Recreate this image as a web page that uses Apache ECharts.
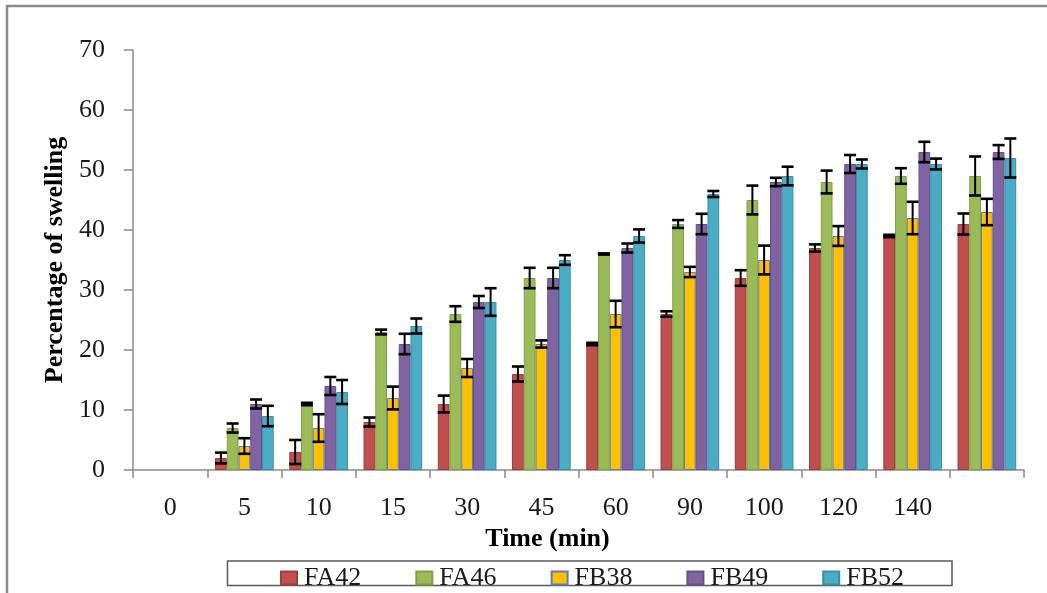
<!DOCTYPE html>
<html>
<head>
<meta charset="utf-8">
<script src="https://cdn.jsdelivr.net/npm/echarts@6/dist/echarts.min.js"></script>
<style>
  html, body { margin: 0; padding: 0; background: #fff; }
  #chart { width: 1047px; height: 593px; }
</style>
</head>
<body>
<div id="chart"></div>
<script>
// ---- data ----
const categories = ['0', '5', '10', '15', '30', '45', '60', '90', '100', '120', '140', ''];
const yTicks = [0, 10, 20, 30, 40, 50, 60, 70];

const seriesNames = ['FA42', 'FA46', 'FB38', 'FB49', 'FB52'];

const FA42 = [null, 2, 3, 8, 11, 16, 21, 26, 32, 37, 39, 41];
const FA46 = [null, 7, 11, 23, 26, 32, 36, 41, 45, 48, 49, 49];
const FB38 = [null, 4, 7, 12, 17, 21, 26, 33, 35, 39, 42, 43];
const FB49 = [null, 11, 14, 21, 28, 32, 37, 41, 48, 51, 53, 53];
const FB52 = [null, 9, 13, 24, 28, 35, 39, 46, 49, 51, 51, 52];

const FA42_sd = [null, 0.9, 2.0, 0.75, 1.4, 1.25, 0.2, 0.45, 1.3, 0.6, 0.2, 1.75];
const FA46_sd = [null, 0.75, 0.2, 0.4, 1.3, 1.7, 0.1, 0.65, 2.4, 1.9, 1.3, 3.25];
const FB38_sd = [null, 1.3, 2.3, 1.9, 1.5, 0.6, 2.2, 0.85, 2.4, 1.65, 2.7, 2.2];
const FB49_sd = [null, 0.75, 1.5, 1.7, 1.0, 1.7, 0.75, 1.7, 0.7, 1.5, 1.7, 1.15];
const FB52_sd = [null, 1.7, 2.0, 1.25, 2.3, 0.8, 1.1, 0.5, 1.55, 0.75, 0.9, 3.25];

// ---- styling ----
const values = [FA42, FA46, FB38, FB49, FB52];
const errors = [FA42_sd, FA46_sd, FB38_sd, FB49_sd, FB52_sd];
const colors = ['#C0504D', '#9BBB59', '#FFC000', '#8064A2', '#4BACC6'];
const borders = ['#9a3f3c', '#819d48', '#5a7fb3', '#67508a', '#3a8ea6'];
const FONT = '"Liberation Serif", "Times New Roman", serif';
const CAT_GAP = 0.21;
const N = seriesNames.length;

const barSeries = seriesNames.map((name, i) => ({
  name: name,
  type: 'bar',
  data: values[i],
  barGap: '0%',
  barCategoryGap: (CAT_GAP * 100) + '%',
  itemStyle: { color: colors[i], borderColor: borders[i], borderWidth: 1 },
  z: 2
}));

const errSeries = seriesNames.map((name, i) => ({
  name: name + ' SD',
  type: 'custom',
  z: 5,
  silent: true,
  data: values[i].map((v, k) => v == null ? null : [k, v, errors[i][k]]).filter(d => d),
  renderItem: function (params, api) {
    const k = api.value(0), v = api.value(1), e = api.value(2);
    const band = api.size([1, 0])[0];
    const bw = band * (1 - CAT_GAP) / N;
    const off = (i - (N - 1) / 2) * bw;
    const top = api.coord([k, v + e]);
    const bot = api.coord([k, v - e]);
    const x = top[0] + off;
    const half = 6;
    return {
      type: 'group',
      children: [
        { type: 'line', shape: { x1: x, y1: top[1], x2: x, y2: bot[1] }, style: { stroke: '#000', lineWidth: 2 } },
        { type: 'line', shape: { x1: x - half, y1: top[1], x2: x + half, y2: top[1] }, style: { stroke: '#000', lineWidth: 2.6 } },
        { type: 'line', shape: { x1: x - half, y1: bot[1], x2: x + half, y2: bot[1] }, style: { stroke: '#000', lineWidth: 2.6 } }
      ]
    };
  }
}));

const chart = echarts.init(document.getElementById('chart'), null, { renderer: 'canvas' });
chart.setOption({
  animation: false,
  backgroundColor: '#fff',
  grid: { left: 133, right: 23, top: 50, bottom: 123, containLabel: false },
  legend: {
    data: seriesNames,
    left: 275,
    top: 560,
    itemWidth: 16,
    itemHeight: 13,
    itemGap: 54,
    icon: 'rect',
    textStyle: { fontFamily: FONT, fontSize: 26, color: '#1a1a1a', padding: [0, 0, 0, 2] }
  },
  graphic: [
    { type: 'rect', z: -10, shape: { x: 7, y: 6, width: 1200, height: 800 },
      style: { fill: 'none', stroke: '#8a8a8a', lineWidth: 2.5 } },
    { type: 'rect', z: -5, shape: { x: 227.5, y: 561, width: 724.5, height: 24.5 },
      style: { fill: '#fff', stroke: '#5a5a5a', lineWidth: 1.5 } }
  ],
  xAxis: {
    type: 'category',
    data: categories,
    boundaryGap: true,
    name: 'Time (min)',
    nameLocation: 'middle',
    nameGap: 53,
    nameTextStyle: { fontFamily: FONT, fontSize: 26, fontWeight: 'bold', color: '#000', padding: [0, 62, 0, 0] },
    axisLine: { lineStyle: { color: '#8a8a8a', width: 1.5 } },
    axisTick: { show: true, alignWithLabel: false, length: 8, lineStyle: { color: '#8a8a8a', width: 1.5 } },
    axisLabel: { interval: 0, margin: 25, fontFamily: FONT, fontSize: 26, color: '#1a1a1a' },
    splitLine: { show: false }
  },
  yAxis: {
    type: 'value',
    min: yTicks[0],
    max: yTicks[yTicks.length - 1],
    interval: 10,
    name: 'Percentage of swelling',
    nameLocation: 'middle',
    nameGap: 65,
    nameTextStyle: { fontFamily: FONT, fontSize: 26, fontWeight: 'bold', color: '#000' },
    axisLine: { show: true, lineStyle: { color: '#8a8a8a', width: 1.5 } },
    axisTick: { show: true, length: 9, lineStyle: { color: '#8a8a8a', width: 1.5 } },
    axisLabel: { margin: 28, fontFamily: FONT, fontSize: 26, color: '#1a1a1a' },
    splitLine: { show: false }
  },
  series: barSeries.concat(errSeries)
});
</script>
</body>
</html>
